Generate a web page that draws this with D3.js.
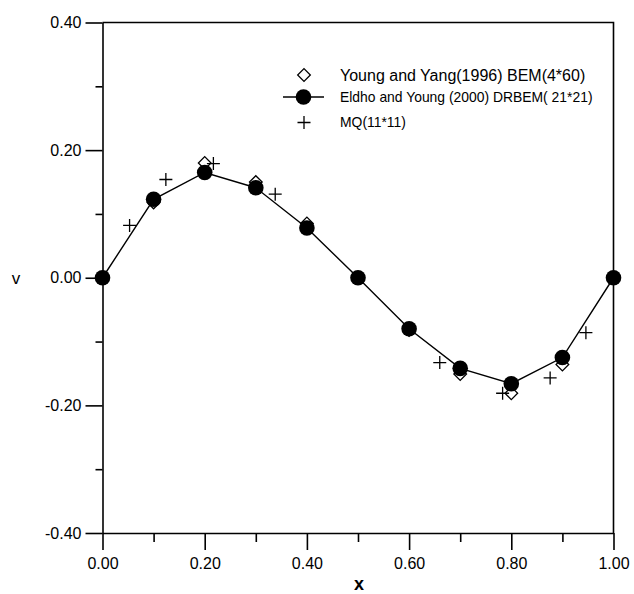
<!DOCTYPE html>
<html>
<head>
<meta charset="utf-8">
<script src="https://cdn.jsdelivr.net/npm/d3@7"></script>
<style>
  html, body { margin: 0; padding: 0; background: #fff; }
  svg { display: block; font-family: Arial, "Liberation Sans", Helvetica, sans-serif; }
</style>
</head>
<body>
<svg id="chart" width="634" height="594"></svg>
<script>
// Velocity component v along x: three solution methods
const xNodes = [0.0, 0.1, 0.2, 0.3, 0.4, 0.5, 0.6, 0.7, 0.8, 0.9, 1.0];
const bemValues = [0.0, 0.118, 0.180, 0.150, 0.085, 0.0, -0.082, -0.151, -0.181, -0.136, 0.0];
const drbemValues = [0.0, 0.123, 0.165, 0.141, 0.078, 0.0, -0.080, -0.142, -0.166, -0.125, 0.0];
const mqX = [0.053, 0.124, 0.217, 0.338, 0.660, 0.783, 0.876, 0.946];
const mqValues = [0.082, 0.154, 0.179, 0.131, -0.133, -0.181, -0.157, -0.086];

const xTicks = [0.0, 0.2, 0.4, 0.6, 0.8, 1.0];
const xMinorTicks = [0.1, 0.3, 0.5, 0.7, 0.9];
const yTicks = [-0.4, -0.2, 0.0, 0.2, 0.4];
const yMinorTicks = [-0.3, -0.1, 0.1, 0.3];

const legendLabels = [
  "Young and Yang(1996) BEM(4*60)",
  "Eldho and Young (2000) DRBEM( 21*21)",
  "MQ(11*11)"
];

const svg = d3.select("#chart");
const plotLeft = 102.5, plotRight = 613.5, plotTop = 22.5, plotBottom = 533;

const x = d3.scaleLinear().domain([0, 1]).range([plotLeft, plotRight]);
const y = d3.scaleLinear().domain([-0.4, 0.4]).range([plotBottom, plotTop]);

// Plain hyphen-minus, two decimals
const fmt = d => (Math.abs(d) < 1e-9 ? 0 : d).toFixed(2);

// Frame (top and right edges)
svg.append("path")
  .attr("d", `M${plotLeft},${plotTop}H${plotRight}V${plotBottom}`)
  .attr("fill", "none").attr("stroke", "#000").attr("stroke-width", 1.6);

// Bottom axis
const gx = svg.append("g").attr("transform", `translate(0,${plotBottom})`)
  .call(d3.axisBottom(x).tickValues(xTicks).tickFormat(fmt)
        .tickSize(17).tickSizeOuter(0).tickPadding(5));
svg.append("g").attr("transform", `translate(0,${plotBottom})`)
  .call(d3.axisBottom(x).tickValues(xMinorTicks).tickFormat("").tickSize(9).tickSizeOuter(0))
  .select(".domain").remove();

// Left axis
const gy = svg.append("g").attr("transform", `translate(${plotLeft},0)`)
  .call(d3.axisLeft(y).tickValues(yTicks).tickFormat(fmt)
        .tickSize(17).tickSizeOuter(0).tickPadding(4));
svg.append("g").attr("transform", `translate(${plotLeft},0)`)
  .call(d3.axisLeft(y).tickValues(yMinorTicks).tickFormat("").tickSize(7).tickSizeOuter(0))
  .select(".domain").remove();

svg.selectAll(".domain, .tick line").attr("stroke", "#000").attr("stroke-width", 1.6);
svg.selectAll(".tick text").attr("font-size", 16).attr("fill", "#000")
  .attr("font-family", "Arial, 'Liberation Sans', sans-serif");
gx.selectAll(".tick text").attr("dy", "0.85em");

// Axis titles
svg.append("text").attr("x", 16).attr("y", 278).attr("dy", "0.35em")
  .attr("text-anchor", "middle").attr("font-size", 17).text("v");
svg.append("text").attr("x", 359).attr("y", 584).attr("dy", "0.35em")
  .attr("text-anchor", "middle").attr("font-size", 18).attr("font-weight", "bold").text("x");

const diamond = d3.symbol().type(d3.symbolSquare).size(80);
const plusPath = h => `M${-h},0H${h}M0,${-h}V${h}`;

// DRBEM line
const line = d3.line().x((d, i) => x(xNodes[i])).y(d => y(d));
svg.append("path").datum(drbemValues).attr("d", line)
  .attr("fill", "none").attr("stroke", "#000").attr("stroke-width", 1.4);

// BEM diamonds
svg.append("g").selectAll("path").data(bemValues).join("path")
  .attr("transform", (d, i) => `translate(${x(xNodes[i])},${y(d)}) rotate(45)`)
  .attr("d", diamond).attr("fill", "#fff").attr("stroke", "#000").attr("stroke-width", 1.3);

// DRBEM circles
svg.append("g").selectAll("circle").data(drbemValues).join("circle")
  .attr("cx", (d, i) => x(xNodes[i])).attr("cy", d => y(d)).attr("r", 7.8).attr("fill", "#000");

// MQ plus markers
svg.append("g").selectAll("path").data(mqValues).join("path")
  .attr("transform", (d, i) => `translate(${x(mqX[i])},${y(d)})`)
  .attr("d", plusPath(6.5)).attr("stroke", "#000").attr("stroke-width", 1.3).attr("fill", "none");

// Legend
const lg = svg.append("g");
lg.append("path").attr("transform", "translate(304,75) rotate(45)").attr("d", diamond)
  .attr("fill", "#fff").attr("stroke", "#000").attr("stroke-width", 1.3);
lg.append("text").attr("x", 340).attr("y", 75).attr("dy", "0.36em").attr("font-size", 16)
  .text(legendLabels[0]);
lg.append("line").attr("x1", 283).attr("x2", 324).attr("y1", 97).attr("y2", 97)
  .attr("stroke", "#000").attr("stroke-width", 1.6);
lg.append("circle").attr("cx", 303.5).attr("cy", 97).attr("r", 7.8).attr("fill", "#000");
lg.append("text").attr("x", 340).attr("y", 97).attr("dy", "0.36em").attr("font-size", 13.9)
  .text(legendLabels[1]);
lg.append("path").attr("transform", "translate(304,122.5)").attr("d", plusPath(6.5))
  .attr("stroke", "#000").attr("stroke-width", 1.3);
lg.append("text").attr("x", 340).attr("y", 122).attr("dy", "0.36em").attr("font-size", 13.9)
  .text(legendLabels[2]);
</script>
</body>
</html>
